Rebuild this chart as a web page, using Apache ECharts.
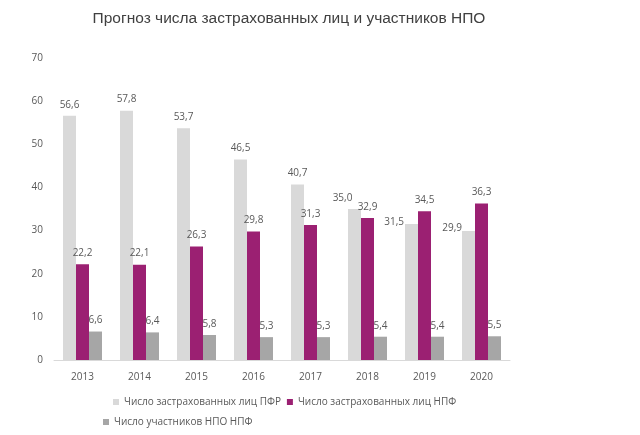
<!DOCTYPE html>
<html>
<head>
<meta charset="utf-8">
<script src="https://cdn.jsdelivr.net/npm/echarts@6/dist/echarts.min.js"></script>
<style>html,body{margin:0;padding:0;background:#fff}#c{width:640px;height:435px}</style>
</head>
<body>
<div id="c"></div>
<script>
const years = ['2013','2014','2015','2016','2017','2018','2019','2020'];
const pfr = [56.6, 57.8, 53.7, 46.5, 40.7, 35.0, 31.5, 29.9];
const npf = [22.2, 22.1, 26.3, 29.8, 31.3, 32.9, 34.5, 36.3];
const npo = [6.6, 6.4, 5.8, 5.3, 5.3, 5.4, 5.4, 5.5];
const seriesNames = ['Число застрахованных лиц ПФР', 'Число застрахованных лиц НПФ', 'Число участников НПО НПФ'];
const yTicks = [0, 10, 20, 30, 40, 50, 60, 70];

const FONT = '"Open Sans", "Noto Sans", sans-serif';
const TXT = '#595959';
const fmt = p => p.value.toFixed(1).replace('.', ',');

function pfrData() {
  return pfr.map((v, i) => {
    if (i === 5) return { value: v, label: { offset: [-12, 0] } };
    if (i === 6) return { value: v, label: { position: [-1, -2], align: 'right', verticalAlign: 'middle' } };
    if (i === 7) return { value: v, label: { position: [0, -3], align: 'right', verticalAlign: 'middle' } };
    return v;
  });
}

const lbl = { show: true, position: 'top', distance: 6, formatter: fmt, color: TXT, fontFamily: FONT, fontSize: 10 };

const chart = echarts.init(document.getElementById('c'), null, { renderer: 'canvas' });
chart.setOption({
  animation: false,
  backgroundColor: '#fff',
  title: {
    text: 'Прогноз числа застрахованных лиц и участников НПО',
    left: 284, textAlign: 'center', top: 6,
    textStyle: { fontFamily: '"Liberation Sans", Arial, sans-serif', fontSize: 15.5, fontWeight: 'normal', color: '#404040' }
  },
  legend: [
    { data: [seriesNames[0], seriesNames[1]], left: 113, top: 397, padding: 0, orient: 'horizontal', icon: 'rect',
      itemWidth: 6, itemHeight: 6, itemGap: 6, textStyle: { color: TXT, fontFamily: FONT, fontSize: 10 } },
    { data: [seriesNames[2]], left: 103, top: 417, padding: 0, icon: 'rect',
      itemWidth: 6, itemHeight: 6, itemGap: 6, textStyle: { color: TXT, fontFamily: FONT, fontSize: 10 } }
  ],
  grid: { left: 54, right: 130, top: 58, bottom: 75, containLabel: false },
  xAxis: {
    type: 'category', data: years,
    axisLine: { lineStyle: { color: '#d9d9d9' } },
    axisTick: { show: false },
    axisLabel: { color: TXT, fontFamily: FONT, fontSize: 10, margin: 12 }
  },
  yAxis: {
    type: 'value', min: yTicks[0], max: yTicks[yTicks.length - 1], interval: 10,
    axisLine: { show: false }, axisTick: { show: false },
    splitLine: { show: false },
    axisLabel: { color: TXT, fontFamily: FONT, fontSize: 10, margin: 11 }
  },
  series: [
    { name: seriesNames[0], type: 'bar', data: pfrData(), barWidth: 13, barGap: '0%', itemStyle: { color: '#d9d9d9' }, label: lbl },
    { name: seriesNames[1], type: 'bar', data: npf, barWidth: 13, barGap: '0%', itemStyle: { color: '#9b2072' }, label: lbl },
    { name: seriesNames[2], type: 'bar', data: npo, barWidth: 13, barGap: '0%', itemStyle: { color: '#a6a6a6' }, label: lbl }
  ]
});
</script>
</body>
</html>
